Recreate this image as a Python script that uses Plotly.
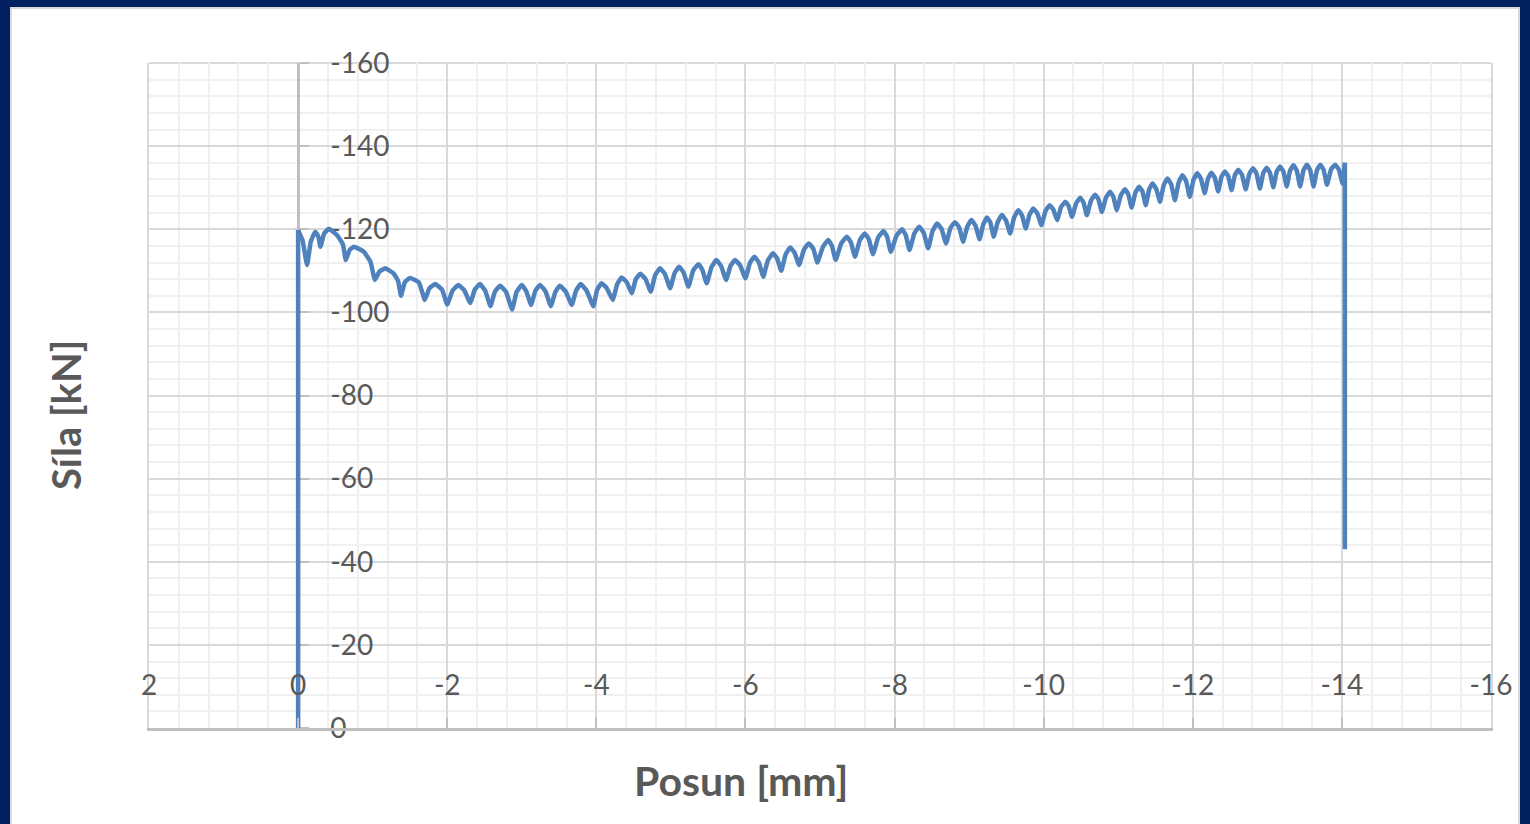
import plotly.graph_objects as go

# ---- data (displacement [mm], force [kN]) ----
posun_mm = [
    0.0, 0.0, -0.06, -0.12, -0.17, -0.23, -0.27, -0.30, -0.35, -0.41, -0.52, -0.60,
    -0.64, -0.69, -0.75, -0.88, -0.97, -1.03, -1.09, -1.17, -1.28, -1.34,
    -1.38, -1.43, -1.50, -1.62, -1.70, -1.76, -1.84, -1.93,
    -2.00, -2.07, -2.15, -2.23, -2.31, -2.37, -2.44, -2.51,
    -2.58, -2.64, -2.71, -2.79, -2.87, -2.93, -3.00, -3.06,
    -3.125, -3.18, -3.245, -3.32, -3.39, -3.45, -3.51, -3.59,
    -3.67, -3.73, -3.79, -3.87, -3.96, -4.01, -4.07, -4.14,
    -4.22, -4.28, -4.34, -4.41, -4.475, -4.53, -4.59, -4.66,
    -4.73, -4.79, -4.855, -4.92, -4.99, -5.05, -5.11, -5.17,
    -5.235, -5.30, -5.37, -5.42, -5.48, -5.545, -5.61, -5.675,
    -5.74, -5.80, -5.86, -5.93, -6.00, -6.06, -6.12, -6.18,
    -6.24, -6.30, -6.37, -6.425, -6.48, -6.54, -6.60, -6.66,
    -6.72, -6.785, -6.85, -6.91, -6.965, -7.04, -7.11, -7.16,
    -7.21, -7.285, -7.36, -7.415, -7.47, -7.535, -7.60, -7.655,
    -7.71, -7.78, -7.85, -7.90, -7.95, -8.025, -8.10, -8.15,
    -8.20, -8.265, -8.33, -8.39, -8.45, -8.51, -8.57, -8.63,
    -8.69, -8.75, -8.81, -8.865, -8.92, -8.975, -9.03, -9.085,
    -9.14, -9.19, -9.24, -9.285, -9.33, -9.385, -9.44, -9.495,
    -9.55, -9.605, -9.66, -9.71, -9.76, -9.81, -9.86, -9.915,
    -9.97, -10.025, -10.08, -10.13, -10.18, -10.235, -10.29, -10.335,
    -10.38, -10.435, -10.49, -10.535, -10.58, -10.635, -10.69, -10.735,
    -10.78, -10.835, -10.89, -10.935, -10.98, -11.035, -11.09, -11.135,
    -11.18, -11.23, -11.28, -11.325, -11.37, -11.415, -11.46, -11.51,
    -11.56, -11.61, -11.66, -11.71, -11.76, -11.81, -11.86, -11.91,
    -11.96, -12.01, -12.06, -12.11, -12.16, -12.205, -12.25, -12.295,
    -12.34, -12.385, -12.43, -12.475, -12.52, -12.565, -12.61, -12.66,
    -12.71, -12.76, -12.81, -12.855, -12.90, -12.945, -12.99, -13.035,
    -13.08, -13.125, -13.17, -13.215, -13.26, -13.305, -13.35, -13.395,
    -13.44, -13.485, -13.53, -13.575, -13.62, -13.665, -13.71, -13.755,
    -13.80, -13.855, -13.91, -13.96, -14.01, -14.04, -14.04,
]
sila_kN = [
    0.0, -119.8, -117.3, -111.4, -117.0, -119.4, -118.3, -115.8, -119.0, -120.1, -118.6, -116.4,
    -112.6, -115.0, -115.8, -114.6, -112.2, -107.8, -109.8, -110.6, -109.4, -107.6,
    -104.0, -107.2, -108.3, -107.2, -103.0, -105.8, -106.8, -105.5,
    -101.9, -105.2, -106.6, -105.3, -102.2, -105.5, -106.8, -105.2,
    -101.5, -105.0, -106.4, -104.9, -100.7, -104.9, -106.6, -105.1,
    -101.8, -105.1, -106.6, -105.0, -101.5, -104.9, -106.4, -105.0,
    -101.8, -105.3, -106.8, -105.2, -101.5, -105.4, -107.0, -105.8,
    -103.0, -106.8, -108.4, -107.2, -104.6, -108.0, -109.3, -108.0,
    -105.0, -109.0, -110.6, -109.2, -105.8, -109.5, -111.0, -109.6,
    -106.2, -110.1, -111.6, -110.3, -107.0, -110.9, -112.6, -111.1,
    -107.8, -111.2, -112.6, -111.3, -108.2, -111.9, -113.4, -112.0,
    -108.6, -112.5, -114.2, -113.0, -110.0, -114.0, -115.6, -114.3,
    -111.4, -115.1, -116.6, -115.3, -112.0, -115.8, -117.4, -116.0,
    -112.6, -116.6, -118.2, -116.8, -113.4, -117.4, -119.0, -117.6,
    -114.0, -118.0, -119.6, -118.2, -114.6, -118.4, -120.0, -118.6,
    -115.0, -119.0, -120.6, -119.2, -115.4, -119.6, -121.4, -120.1,
    -116.6, -120.3, -121.7, -120.5, -117.0, -120.6, -122.2, -120.9,
    -117.6, -121.2, -122.8, -121.6, -118.2, -121.8, -123.4, -122.1,
    -119.0, -122.9, -124.6, -123.3, -120.2, -123.5, -125.0, -123.8,
    -121.0, -124.4, -125.8, -124.7, -122.2, -125.4, -126.6, -125.6,
    -123.0, -126.2, -127.6, -126.4, -123.4, -126.9, -128.3, -127.2,
    -124.2, -127.6, -129.0, -127.8, -124.6, -128.2, -129.6, -128.4,
    -125.2, -128.8, -130.2, -129.1, -125.8, -129.6, -131.0, -129.7,
    -126.6, -130.6, -132.2, -130.8, -127.0, -131.2, -133.0, -131.6,
    -127.8, -131.9, -133.5, -132.1, -128.7, -132.2, -133.6, -132.4,
    -129.1, -132.6, -133.9, -132.8, -129.4, -133.0, -134.3, -133.1,
    -129.6, -133.4, -134.7, -133.4, -129.8, -133.5, -134.8, -133.6,
    -130.1, -133.8, -135.1, -133.9, -130.3, -134.1, -135.4, -134.1,
    -130.3, -134.2, -135.5, -134.2, -130.3, -134.2, -135.5, -134.3,
    -130.7, -134.4, -135.5, -134.3, -131.0, -136.0, -43.0,
]

x_tick_vals = [2, 0, -2, -4, -6, -8, -10, -12, -14, -16]
x_tick_text = ["2", "0", "-2", "-4", "-6", "-8", "-10", "-12", "-14", "-16"]
y_tick_vals = [0, -20, -40, -60, -80, -100, -120, -140, -160]
y_tick_text = ["0", "-20", "-40", "-60", "-80", "-100", "-120", "-140", "-160"]

x_title = "Posun [mm]"
y_title = "Síla [kN]"

# ---- styling ----
W, H = 1530, 824
L, R, T, B = 149, 1491, 63, 728
pw, ph = R - L, B - T
FONT = "Lato"
TXT = "#595959"
MAJOR = "#d9d9d9"
MINOR = "#f0f0f0"
AXIS = "#bfbfbf"
NAVY = "#002060"
BLUE = "#4f81bd"


def px2x(px):
    return (px - L) / pw


def py2y(py):
    return (B - py) / ph


fig = go.Figure()
# helper traces keeping the grid subplot and the label axis alive
fig.add_trace(go.Scatter(x=[None], y=[None], xaxis="x", yaxis="y", showlegend=False))
fig.add_trace(go.Scatter(x=[None], y=[None], xaxis="x2", yaxis="y", showlegend=False))

# the single measured series, drawn in three pieces: straight loading edge,
# smoothed sawtooth, straight unloading edge
pieces = [
    (slice(0, 2), "linear"),
    (slice(1, len(posun_mm) - 1), "spline"),
    (slice(len(posun_mm) - 2, len(posun_mm)), "linear"),
]
for sl, shape in pieces:
    line = dict(color=BLUE, width=4.5, shape=shape)
    if shape == "spline":
        line["smoothing"] = 0.35
    fig.add_trace(go.Scatter(
        x=posun_mm[sl], y=sila_kN[sl], mode="lines", xaxis="x", yaxis="y2",
        line=line, hoverinfo="skip", showlegend=False,
    ))

fig.update_layout(
    width=W, height=H,
    margin=dict(l=L, r=W - R, t=T, b=H - B, autoexpand=False),
    paper_bgcolor="white", plot_bgcolor="white",
    font=dict(family=FONT, color=TXT),
    xaxis=dict(
        range=[2, -16], tickvals=x_tick_vals, showticklabels=False,
        showgrid=True, gridcolor=MAJOR, gridwidth=2,
        minor=dict(dtick=0.4, tick0=0, showgrid=True, gridcolor=MINOR, gridwidth=2),
        zeroline=False, showline=True, linecolor=AXIS, linewidth=2.5,
        ticks="inside", ticklen=10, tickwidth=2, tickcolor=AXIS,
        anchor="y", side="bottom",
    ),
    xaxis2=dict(
        range=[2, -16], overlaying="x", anchor="free", position=0, side="top",
        tickvals=x_tick_vals, ticktext=x_tick_text,
        tickfont=dict(family=FONT, size=28, color=TXT),
        showgrid=False, zeroline=False, showline=False, ticks="",
        ticklabelstandoff=27,
    ),
    yaxis=dict(
        range=[0, -160], tickvals=y_tick_vals, showticklabels=False,
        showgrid=True, gridcolor=MAJOR, gridwidth=2,
        minor=dict(dtick=4, tick0=0, showgrid=True, gridcolor=MINOR, gridwidth=2),
        zeroline=False, showline=True, linecolor=MAJOR, linewidth=2, mirror=True,
        ticks="",
    ),
    yaxis2=dict(
        range=[0, -160], overlaying="y", anchor="free", position=px2x(298), side="right",
        tickvals=y_tick_vals, ticktext=y_tick_text,
        tickfont=dict(family=FONT, size=28, color=TXT),
        showgrid=False, zeroline=False, showline=True, linecolor=AXIS, linewidth=2.5,
        ticks="outside", ticklen=9, tickwidth=2, tickcolor=AXIS,
        ticklabelstandoff=16, layer="below traces",
    ),
    annotations=[
        dict(text=x_title, xref="paper", yref="paper", x=px2x(741), y=py2y(780),
             showarrow=False, font=dict(family=FONT, size=41, color=TXT, weight="bold"),
             xanchor="center", yanchor="middle"),
        dict(text=y_title, xref="paper", yref="paper", x=px2x(66), y=py2y(415),
             showarrow=False, textangle=-90,
             font=dict(family=FONT, size=40, color=TXT, weight="bold"),
             xanchor="center", yanchor="middle"),
    ],
    shapes=[
        dict(type="line", xref="paper", yref="paper", layer="below",
             x0=0, x1=1, y0=1, y1=1, line=dict(color=MAJOR, width=2)),
        dict(type="rect", xref="paper", yref="paper", layer="above",
             x0=px2x(11), x1=px2x(1519), y0=py2y(830), y1=py2y(8),
             line=dict(color="#d9d9d9", width=2), fillcolor="rgba(0,0,0,0)"),
        dict(type="rect", xref="paper", yref="paper", layer="above",
             x0=px2x(-5), x1=px2x(10), y0=py2y(830), y1=py2y(-5),
             line=dict(width=0), fillcolor=NAVY),
        dict(type="rect", xref="paper", yref="paper", layer="above",
             x0=px2x(-5), x1=px2x(1535), y0=py2y(7), y1=py2y(-5),
             line=dict(width=0), fillcolor=NAVY),
        dict(type="rect", xref="paper", yref="paper", layer="above",
             x0=px2x(1520), x1=px2x(1535), y0=py2y(830), y1=py2y(-5),
             line=dict(width=0), fillcolor=NAVY),
    ],
)

fig.write_html("out.html")
